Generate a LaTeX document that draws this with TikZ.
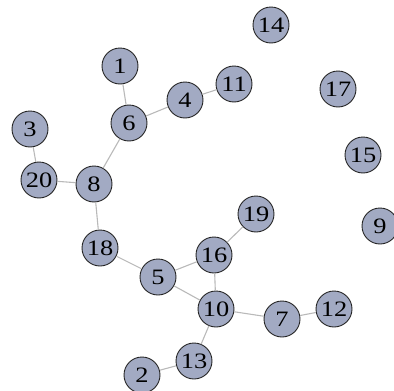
\documentclass[tikz,border=0pt]{standalone}
\usepackage{fontspec}
\setmainfont{Liberation Serif}
\newfontfamily\vfont[FakeStretch=1.2]{Liberation Serif}
\definecolor{vfill}{RGB}{162,170,195}
\definecolor{egray}{RGB}{185,185,185}
\begin{document}
\begin{tikzpicture}[x=1pt, y=-1pt,
    vertex/.style={circle, draw=black!85, line width=0.9pt, fill=vfill, minimum size=36pt, inner sep=0pt, font=\vfont\fontsize{22}{22}\selectfont},
    edge/.style={draw=egray, line width=1.1pt}]
  \useasboundingbox (0,0) rectangle (394,391);
  % 节点定义
  \node[vertex] (n1) at (120, 66) {1};
  \node[vertex] (n2) at (142, 375) {2};
  \node[vertex] (n3) at (30, 129) {3};
  \node[vertex] (n4) at (185, 100) {4};
  \node[vertex] (n5) at (158, 277) {5};
  \node[vertex] (n6) at (129, 123) {6};
  \node[vertex] (n7) at (282, 319) {7};
  \node[vertex] (n8) at (94, 184) {8};
  \node[vertex] (n9) at (380, 226) {9};
  \node[vertex] (n10) at (216, 309) {10};
  \node[vertex] (n11) at (234, 84) {11};
  \node[vertex] (n12) at (334, 309) {12};
  \node[vertex] (n13) at (194, 361) {13};
  \node[vertex] (n14) at (271, 25) {14};
  \node[vertex] (n15) at (363, 155) {15};
  \node[vertex] (n16) at (214, 255) {16};
  \node[vertex] (n17) at (338, 89) {17};
  \node[vertex] (n18) at (100, 248) {18};
  \node[vertex] (n19) at (256, 214) {19};
  \node[vertex] (n20) at (39, 180) {20};

  % 边
  \draw[edge] (n1) -- (n6);
  \draw[edge] (n6) -- (n4);
  \draw[edge] (n4) -- (n11);
  \draw[edge] (n6) -- (n8);
  \draw[edge] (n3) -- (n20);
  \draw[edge] (n20) -- (n8);
  \draw[edge] (n8) -- (n18);
  \draw[edge] (n18) -- (n5);
  \draw[edge] (n5) -- (n16);
  \draw[edge] (n5) -- (n10);
  \draw[edge] (n16) -- (n19);
  \draw[edge] (n16) -- (n10);
  \draw[edge] (n10) -- (n7);
  \draw[edge] (n7) -- (n12);
  \draw[edge] (n10) -- (n13);
  \draw[edge] (n13) -- (n2);
\end{tikzpicture}
\end{document}
